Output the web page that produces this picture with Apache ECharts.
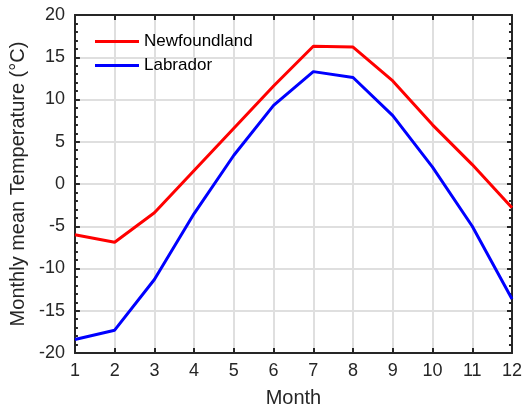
<!DOCTYPE html>
<html><head><meta charset="utf-8">
<script src="https://cdn.jsdelivr.net/npm/echarts@6/dist/echarts.min.js"></script>
<style>html,body{margin:0;padding:0;background:#fff}#c{width:525px;height:413px}</style>
</head><body><div id="c"></div>
<script>
var months = [1,2,3,4,5,6,7,8,9,10,11,12];
var newfoundland = [-6.0, -6.9, -3.4, 1.6, 6.6, 11.6, 16.3, 16.2, 12.2, 7.0, 2.3, -2.8];
var labrador = [-18.4, -17.3, -11.3, -3.5, 3.4, 9.3, 13.3, 12.6, 8.1, 2.0, -5.0, -13.6];
var yTicks = [-20, -15, -10, -5, 0, 5, 10, 15, 20];
var seriesNames = ['Newfoundland', 'Labrador'];

var font = 'Liberation Sans, Arial, Helvetica, sans-serif';
var axisColor = '#262626';
function pairs(v){ return months.map(function(m,i){ return [m, v[i]]; }); }
var chart = echarts.init(document.getElementById('c'));
var common = {
  axisLine:{show:true, onZero:false, lineStyle:{color:axisColor, width:2}},
  axisTick:{show:true, inside:true, length:5, lineStyle:{color:axisColor, width:2}}
};
chart.setOption({
  animation:false,
  textStyle:{fontFamily:font},
  grid:{left:73, right:8, top:15, bottom:60},
  legend:{
    orient:'vertical', left:90, top:28, itemGap:7, itemWidth:44, itemHeight:3,
    icon:'rect', data:seriesNames,
    textStyle:{fontSize:17, color:'#000', fontFamily:font}
  },
  xAxis:[
    Object.assign({type:'value', min:1, max:12, interval:1, position:'bottom',
      name:'Month', nameLocation:'middle', nameGap:35,
      nameTextStyle:{fontSize:20, color:'#262626'},
      axisLabel:{fontSize:18, color:'#262626', margin:9},
      splitLine:{show:true, lineStyle:{color:'#dfdfdf', width:2}}
    }, common),
    Object.assign({type:'value', min:1, max:12, interval:1, position:'top',
      axisLabel:{show:false}, splitLine:{show:false}}, common)
  ],
  yAxis:[
    Object.assign({type:'value', min:-20, max:20, interval:5, position:'left',
      name:'Monthly mean Temperature (°C)', nameLocation:'middle', nameGap:35,
      nameTextStyle:{fontSize:20, color:'#262626'},
      axisLabel:{fontSize:18, color:'#262626', margin:10,
        formatter:function(v){ return yTicks.indexOf(v) >= 0 ? String(v) : ''; }},
      minorTick:{show:true, splitNumber:5, length:3, lineStyle:{color:axisColor, width:2}},
      splitLine:{show:true, lineStyle:{color:'#dfdfdf', width:2}}
    }, common),
    Object.assign({type:'value', min:-20, max:20, interval:5, position:'right',
      axisLabel:{show:false},
      minorTick:{show:true, splitNumber:5, length:3, lineStyle:{color:axisColor, width:2}},
      splitLine:{show:false}}, common)
  ],
  series:[
    {name:seriesNames[0], type:'line', data:pairs(newfoundland), showSymbol:false, symbol:'none',
      lineStyle:{color:'#ff0000', width:3}, itemStyle:{color:'#ff0000'}},
    {name:seriesNames[1], type:'line', data:pairs(labrador), showSymbol:false, symbol:'none',
      lineStyle:{color:'#0000ff', width:3}, itemStyle:{color:'#0000ff'}}
  ]
});
</script></body></html>
